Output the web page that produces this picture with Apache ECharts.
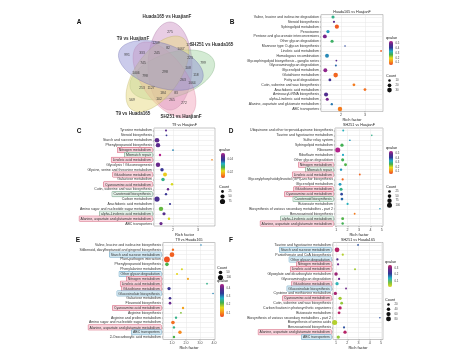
<!DOCTYPE html>
<html>
<head>
<meta charset="utf-8">
<script src="https://cdn.jsdelivr.net/npm/echarts/dist/echarts.min.js"></script>
<style>html,body{margin:0;padding:0;background:#fff}#chart{width:474px;height:351px}</style>
</head>
<body>
<div id="chart"></div>
<script>
// ---- Venn (panel A)
const vennSets = ['Huada165 vs HuajianF', 'SH251 vs Huada165', 'SH251 vs HuajianF', 'T9 vs Huada165', 'T9 vs HuajianF'];
const vennTipAngle = [-90, -18, 54, 126, 198];
const vennCounts = [275, 179, 1209, 82, 1067, 245, 333, 991, 223, 799, 108, 118, 745, 798, 298, 1006, 263, 1064, 253, 1127, 184, 83, 102, 265, 272, 569];
const vennLabelPos = [[5,-40],[24,-27],[-9,-29],[3,-24],[16,-23],[-8,-19],[-23,-19],[-38,-17],[25,-14],[38,-9],[23,-4],[31,3],[-22,-9],[-20,4],[0,0],[-29,1],[18,8],[27,11],[-23,16],[-14,16],[-2,21],[11,21],[-6,27],[7,28],[19,31],[-33,28]];

// ---- panel B: Huada165 vs HuajianF
const catsB = ['Valine, leucine and isoleucine degradation','Steroid biosynthesis','Sphingolipid metabolism','Peroxisome','Pentose and glucuronate interconversions','Other glycan degradation','Mannose type O-glycan biosynthesis','Linoleic acid metabolism','Homologous recombination','Glycosphingolipid biosynthesis - ganglio series','Glycosaminoglycan degradation','Glycerolipid metabolism','Glutathione metabolism','Fatty acid degradation','Cutin, suberine and wax biosynthesis','Arachidonic acid metabolism','Aminoacyl-tRNA biosynthesis','alpha-Linolenic acid metabolism','Alanine, aspartate and glutamate metabolism','ABC transporters'];
const richB = [1.67,1.71,1.83,1.46,1.33,1.63,2.17,3.67,1.42,1.81,1.79,1.35,1.78,1.54,2.54,3.0,1.38,1.43,1.62,1.96];
const countB = [15,8,25,16,22,15,5,6,22,6,7,22,30,12,12,12,24,14,9,28];
const qB = [0.3,0.48,0.07,0.35,0.5,0.28,0.4,0.07,0.36,0.47,0.38,0.52,0.08,0.44,0.1,0.09,0.46,0.5,0.37,0.1];

// ---- panel C: T9 vs HuajianF
const catsC = ['Tyrosine metabolism','Steroid biosynthesis','Starch and sucrose metabolism','Phenylpropanoid biosynthesis','Nitrogen metabolism','Mismatch repair','Linoleic acid metabolism','Glycolysis / Gluconeogenesis','Glycine, serine and threonine metabolism','Glutathione metabolism','Galactose metabolism','Cyanoamino acid metabolism','Cutin, suberine and wax biosynthesis','Carotenoid biosynthesis','Carbon metabolism','Arachidonic acid metabolism','Amino sugar and nucleotide sugar metabolism','alpha-Linolenic acid metabolism','Alanine, aspartate and glutamate metabolism','ABC transporters'];
const richC = [1.72,1.74,1.36,1.40,2.0,1.48,3.56,1.40,1.56,1.68,1.60,1.96,1.80,1.72,1.36,1.88,1.52,1.64,1.84,1.52];
const countC = [15,12,60,55,12,18,10,55,35,45,35,20,18,18,75,15,55,30,20,30];
const qC = [0.044,0.04,0.044,0.044,0.035,0.05,0.015,0.045,0.04,0.02,0.03,0.022,0.045,0.04,0.042,0.04,0.026,0.043,0.022,0.045];

// ---- panel D: SH251 vs HuajianF
const catsD = ['Ubiquinone and other terpenoid-quinone biosynthesis','Taurine and hypotaurine metabolism','Sulfur relay system','Sphingolipid metabolism','Ribosome','Riboflavin metabolism','Other glycan degradation','Nitrogen metabolism','Mismatch repair','Linoleic acid metabolism','Glycosylphosphatidylinositol (GPI)-anchor biosynthesis','Glycerolipid metabolism','Glutathione metabolism','Cyanoamino acid metabolism','Carotenoid biosynthesis','Butanoate metabolism','Biosynthesis of various secondary metabolites - part 2','Benzoxazinoid biosynthesis','alpha-Linolenic acid metabolism','Alanine, aspartate and glutamate metabolism'];
const richD = [1.62,4.12,2.2,1.51,1.14,1.6,1.57,1.82,1.43,3.07,1.57,1.34,1.43,1.48,1.51,2.0,4.83,2.62,1.57,1.57];
const countD = [12,6,8,40,100,15,35,30,20,10,15,30,35,25,25,15,5,10,30,20];
const qD = [0.33,0.3,0.35,0.27,0.55,0.34,0.27,0.26,0.35,0.08,0.08,0.35,0.3,0.4,0.38,0.33,0.35,0.1,0.26,0.27];

// ---- panel E: T9 vs Huada165
const catsE = ['Valine, leucine and isoleucine biosynthesis','Stilbenoid, diarylheptanoid and gingerol biosynthesis','Starch and sucrose metabolism','Plant-pathogen interaction','Phenylpropanoid biosynthesis','Phenylalanine metabolism','Other glycan degradation','Nitrogen metabolism','Linoleic acid metabolism','Glutathione metabolism','Glucosinolate biosynthesis','Galactose metabolism','Flavonoid biosynthesis','Cyanoamino acid metabolism','Arginine biosynthesis','Arginine and proline metabolism','Amino sugar and nucleotide sugar metabolism','Alanine, aspartate and glutamate metabolism','ABC transporters','2-Oxocarboxylic acid metabolism'];
const richE = [3.07,1.07,1.0,0.64,0.64,1.71,1.36,2.14,3.5,0.79,3.93,0.86,0.86,1.79,1.64,1.29,1.07,1.14,1.57,1.14];
const countE = [8,20,85,130,50,15,15,15,10,40,8,25,25,20,12,20,50,20,45,22];
const qE = [0.3,0.08,0.07,0.06,0.22,0.17,0.16,0.12,0.25,0.35,0.3,0.36,0.4,0.12,0.2,0.25,0.08,0.25,0.1,0.22];

// ---- panel F: SH251 vs Huada165
const catsF = ['Taurine and hypotaurine metabolism','Starch and sucrose metabolism','Pantothenate and CoA biosynthesis','Other glycan degradation','Nitrogen metabolism','Linoleic acid metabolism','Glyoxylate and dicarboxylate metabolism','Glycosaminoglycan degradation','Glutathione metabolism','Glucosinolate biosynthesis','Cysteine and methionine metabolism','Cyanoamino acid metabolism','Cutin, suberine and wax biosynthesis','Carbon fixation in photosynthetic organisms','Butanoate metabolism','Biosynthesis of various secondary metabolites - part 2','Biosynthesis of amino acids','Benzoxazinoid biosynthesis','Alanine, aspartate and glutamate metabolism','ABC transporters'];
const richF = [2.96,1.09,1.6,1.12,1.18,2.69,1.0,1.27,1.09,1.89,0.94,1.36,1.5,1.36,1.27,4.9,0.88,1.71,1.8,1.2];
const countF = [8,75,15,15,15,12,40,15,35,10,35,35,25,35,25,5,85,12,35,35];
const qF = [0.2,0.33,0.05,0.25,0.28,0.06,0.31,0.28,0.14,0.28,0.32,0.06,0.07,0.33,0.33,0.2,0.05,0.2,0.33,0.07];

// highlighted pathways
const pinkPaths = ['Nitrogen metabolism','Linoleic acid metabolism','Glutathione metabolism','Cyanoamino acid metabolism','Alanine, aspartate and glutamate metabolism'];
const greenPaths = ['Mismatch repair','Carotenoid biosynthesis','alpha-Linolenic acid metabolism'];
const bluePaths = ['Starch and sucrose metabolism','Other glycan degradation','Glucosinolate biosynthesis','ABC transporters'];

const FONT = '"Liberation Sans", Arial, sans-serif';
const palRainbow = ['#ee4423','#f7941d','#e6dc1b','#45b04a','#23b2c7','#2e3a97','#5d2a8c','#b2218b'];
const palF = ['#e6dc1b','#7cc243','#23b2c7','#2e3a97','#6a2a8e','#c4205f'];

function sizer(cmin, cmax, dmin, dmax) {
  return function (c) {
    const t = Math.max(0, Math.min(1, (c - cmin) / (cmax - cmin)));
    return Math.sqrt(dmin * dmin + t * (dmax * dmax - dmin * dmin));
  };
}

const panels = [
  {letter: 'B', title: 'Huada165 vs HuajianF', cats: catsB, rich: richB, count: countB, q: qB,
   grid: {left: 321, top: 14.6, width: 62, height: 96.8}, xMin: 1.17, xMax: 3.75, split: 2, dec: 0,
   qMin: 0.05, qMax: 0.55, qTicks: [0.1,0.2,0.3,0.4,0.5], pal: palRainbow, size: sizer(5, 30, 1.6, 4.6),
   countTicks: [10,20,30], vm: {x: 389, y: 41, h: 24, tx: 386, ty: 38}, cnt: {x: 386, y: 76, step: 4.8},
   marks: false},
  {letter: 'C', title: 'T9 vs HuajianF', cats: catsC, rich: richC, count: countC, q: qC,
   grid: {left: 154, top: 128, width: 61, height: 98}, xMin: 1.24, xMax: 3.68, split: 2, dec: 0,
   qMin: 0.01, qMax: 0.05, qTicks: [0.02,0.04], pal: palRainbow, size: sizer(10, 75, 1.6, 5.2),
   countTicks: [25,50,75], vm: {x: 221, y: 153, h: 25, tx: 219, ty: 150}, cnt: {x: 219, y: 187, step: 5},
   marks: 'green'},
  {letter: 'D', title: 'SH251 vs HuajianF', cats: catsD, rich: richD, count: countD, q: qD,
   grid: {left: 335, top: 128, width: 48, height: 98}, xMin: 0.9, xMax: 5.1, split: 4, dec: 0,
   qMin: 0.05, qMax: 0.55, qTicks: [0.1,0.2,0.3,0.4,0.5], pal: palRainbow, size: sizer(5, 100, 1.5, 5),
   countTicks: [25,50,75,100], vm: {x: 389, y: 151, h: 23, tx: 386, ty: 148}, cnt: {x: 386, y: 187, step: 4.6},
   marks: 'green'},
  {letter: 'E', title: 'T9 vs Huada165', cats: catsE, rich: richE, count: countE, q: qE,
   grid: {left: 163, top: 242.5, width: 52, height: 97}, xMin: 0.36, xMax: 4.07, split: 4, dec: 1,
   qMin: 0.05, qMax: 0.45, qTicks: [0.1,0.2,0.3,0.4], pal: palRainbow, size: sizer(8, 130, 1.6, 5.8),
   countTicks: [50,100], vm: {x: 220, y: 284, h: 33, tx: 217, ty: 281}, cnt: {x: 217, y: 268, step: 5},
   marks: 'blue'},
  {letter: 'F', title: 'SH251 vs Huada165', cats: catsF, rich: richF, count: countF, q: qF,
   grid: {left: 333, top: 242.5, width: 50, height: 97}, xMin: 0.73, xMax: 5.18, split: 4, dec: 0,
   qMin: 0.02, qMax: 0.34, qTicks: [0.1,0.2,0.3], pal: palF, size: sizer(5, 85, 1.5, 5),
   countTicks: [20,40,60,80], vm: {x: 388, y: 265, h: 22, tx: 385, ty: 262}, cnt: {x: 385, y: 300, step: 4.8},
   marks: 'blue'}
];

const vennFill = ['rgba(200,135,190,0.42)','rgba(160,210,160,0.45)','rgba(242,160,185,0.45)','rgba(232,218,130,0.5)','rgba(140,140,210,0.45)'];
const vennStroke = ['rgba(150,90,145,0.6)','rgba(100,155,100,0.6)','rgba(205,110,140,0.6)','rgba(175,165,80,0.6)','rgba(95,95,165,0.6)'];
const vennSetLabelPos = [[167,17,'center'],[190,45,'left'],[181,117,'center'],[133,114,'center'],[133,39,'center']];

const labStyle = {fontSize: 3.5, color: '#333', fontFamily: FONT};
const richStyles = {
  p: Object.assign({backgroundColor: '#f8d3dc', borderColor: '#d5627a', borderWidth: 0.5, padding: [0.6, 1.2, 0.2, 1.2]}, labStyle),
  g: Object.assign({backgroundColor: '#e3f1e8', borderColor: '#6f9f84', borderWidth: 0.5, padding: [0.6, 1.2, 0.2, 1.2]}, labStyle),
  b: Object.assign({backgroundColor: '#d3e8f2', borderColor: '#6aa3c3', borderWidth: 0.5, padding: [0.6, 1.2, 0.2, 1.2]}, labStyle)
};

const grids = [{left: 115, top: 22, width: 100, height: 100}];
const xAxes = [{gridIndex: 0, type: 'value', min: -50, max: 50, show: false}];
const yAxes = [{gridIndex: 0, type: 'value', min: -50, max: 50, inverse: true, show: false}];
const series = [];
const visualMaps = [];
const graphics = [];

function txt(x, y, text, size, opt) {
  opt = opt || {};
  graphics.push({type: 'text', x: x, y: y, z: 10, style: {
    text: text, fontSize: size, fontFamily: FONT, fontWeight: opt.bold ? 'bold' : 'normal',
    fill: opt.color || '#222', align: opt.align || 'left', verticalAlign: 'middle',
    textAlign: opt.align || 'left', textVerticalAlign: 'middle'}});
}

// Venn ellipses
series.push({
  type: 'custom', coordinateSystem: 'cartesian2d', xAxisIndex: 0, yAxisIndex: 0, silent: true,
  data: vennSets.map((s, i) => [i, 0]),
  renderItem: function (params, api) {
    const k = api.value(0);
    const th = vennTipAngle[k] * Math.PI / 180;
    const cx = 6 * Math.cos(th) + 5 * Math.cos(th + Math.PI / 2);
    const cy = 6 * Math.sin(th) + 5 * Math.sin(th + Math.PI / 2);
    const pts = [];
    for (let t = 0; t < 72; t++) {
      const u = t / 72 * 2 * Math.PI;
      const lx = 44 * Math.cos(u), ly = 22 * Math.sin(u);
      pts.push(api.coord([cx + lx * Math.cos(th) - ly * Math.sin(th), cy + lx * Math.sin(th) + ly * Math.cos(th)]));
    }
    return {type: 'polygon', shape: {points: pts}, style: {fill: vennFill[k], stroke: vennStroke[k], lineWidth: 0.5}};
  }
});
series.push({
  type: 'custom', coordinateSystem: 'cartesian2d', xAxisIndex: 0, yAxisIndex: 0, silent: true, z: 5,
  data: vennCounts.map((n, i) => [vennLabelPos[i][0], vennLabelPos[i][1], n]),
  renderItem: function (params, api) {
    const p = api.coord([api.value(0), api.value(1)]);
    return {type: 'text', x: p[0], y: p[1], style: {text: String(api.value(2)), fontSize: 3.3, fontFamily: FONT,
      fill: '#3a3a3a', align: 'center', verticalAlign: 'middle'}};
  }
});
vennSets.forEach((s, i) => txt(vennSetLabelPos[i][0], vennSetLabelPos[i][1], s, 4.6, {bold: true, align: vennSetLabelPos[i][2], color: '#333'}));
txt(79, 22, 'A', 6.5, {bold: true, align: 'center', color: '#111'});

panels.forEach((P, n) => {
  const gi = n + 1;
  grids.push(Object.assign({show: true, borderColor: '#8a8a8a', borderWidth: 0.5, backgroundColor: '#fff'}, P.grid));
  xAxes.push({
    gridIndex: gi, type: 'value', min: P.xMin, max: P.xMax, splitNumber: P.split,
    axisLine: {show: false},
    axisTick: {show: true, length: 1.2, lineStyle: {color: '#444', width: 0.4}},
    axisLabel: {fontSize: 3.6, color: '#444', fontFamily: FONT, margin: 1.6, showMinLabel: false, showMaxLabel: false,
      formatter: v => v.toFixed(P.dec)},
    splitLine: {show: true, lineStyle: {color: '#e6e6e6', width: 0.5}},
    name: 'Rich factor', nameLocation: 'middle', nameGap: 5.6,
    nameTextStyle: {fontSize: 4, color: '#222', fontFamily: FONT}
  });
  yAxes.push({
    gridIndex: gi, type: 'category', data: P.cats, inverse: true,
    axisLine: {show: false},
    axisTick: {show: true, alignWithLabel: true, length: 1.2, lineStyle: {color: '#444', width: 0.4}},
    axisLabel: Object.assign({interval: 0, margin: 2, rich: richStyles, formatter: function (v) {
      if (!P.marks) return v;
      if (pinkPaths.indexOf(v) >= 0) return '{p|' + v + '}';
      if (P.marks === 'green' && greenPaths.indexOf(v) >= 0) return '{g|' + v + '}';
      if (P.marks === 'blue' && bluePaths.indexOf(v) >= 0) return '{b|' + v + '}';
      return v;
    }}, labStyle),
    splitLine: {show: true, alignWithLabel: true, lineStyle: {color: '#e6e6e6', width: 0.5}}
  });
  series.push({
    type: 'scatter', xAxisIndex: gi, yAxisIndex: gi, z: 3,
    data: P.cats.map((c, i) => [P.rich[i], c, P.q[i], P.count[i]]),
    symbolSize: v => P.size(v[3]),
    itemStyle: {opacity: 1}
  });
  visualMaps.push({
    type: 'continuous', seriesIndex: series.length - 1, dimension: 2, min: P.qMin, max: P.qMax,
    inRange: {color: P.pal}, calculable: false, orient: 'vertical', padding: 0,
    left: P.vm.x, top: P.vm.y, itemWidth: 4, itemHeight: P.vm.h, hoverLink: false
  });
  // panel title and letter
  txt(P.grid.left + P.grid.width / 2, P.grid.top - 2.6, P.title, 3.7, {align: 'center', color: '#222'});
  const letterPos = {B: [232, 22], C: [79, 131], D: [231, 131], E: [78, 240], F: [231, 240]}[P.letter];
  txt(letterPos[0], letterPos[1], P.letter, 6.5, {bold: true, align: 'center', color: '#111'});
  // qvalue legend texts
  txt(P.vm.tx, P.vm.ty, 'qvalue', 3.8, {color: '#222'});
  P.qTicks.forEach(v => {
    const y = P.vm.y + P.vm.h - (v - P.qMin) / (P.qMax - P.qMin) * P.vm.h;
    txt(P.vm.x + 6.5, y, String(v), 2.8, {color: '#444'});
  });
  // count legend
  txt(P.cnt.x, P.cnt.y, 'Count', 3.8, {color: '#222'});
  P.countTicks.forEach((c, i) => {
    const cy = P.cnt.y + 4.5 + i * P.cnt.step;
    graphics.push({type: 'circle', z: 10, shape: {cx: P.cnt.x + 3.5, cy: cy, r: P.size(c) / 2}, style: {fill: '#111'}});
    txt(P.cnt.x + 9.5, cy, String(c), 2.8, {color: '#444'});
  });
});

const chart = echarts.init(document.getElementById('chart'));
chart.setOption({
  backgroundColor: '#fff',
  animation: false,
  textStyle: {fontFamily: FONT},
  grid: grids,
  xAxis: xAxes,
  yAxis: yAxes,
  visualMap: visualMaps,
  series: series,
  graphic: graphics
});
</script>
</body>
</html>
